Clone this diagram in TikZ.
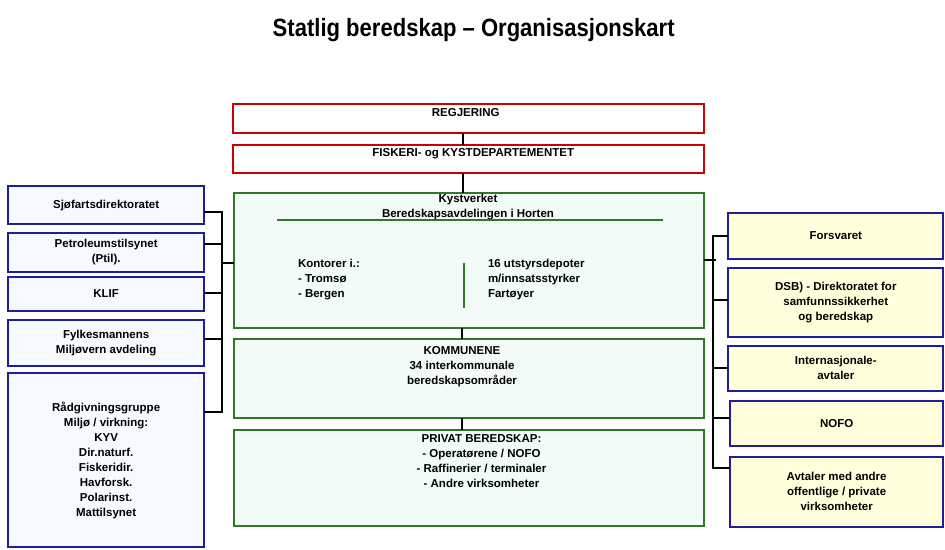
\documentclass[tikz,border=0pt]{standalone}
\usepackage{fontspec}
\setmainfont{Liberation Sans}
\usetikzlibrary{calc}
\definecolor{redc}{RGB}{204,0,0}
\definecolor{greenc}{RGB}{46,120,40}
\definecolor{bluec}{RGB}{30,30,150}
\definecolor{mintc}{RGB}{242,251,247}
\definecolor{lbluec}{RGB}{246,249,255}
\definecolor{lyellowc}{RGB}{255,255,220}
\newcommand\orgbox[7]{\node[#6, minimum width={(#4-#2)*1pt}, minimum height={(#5-#3)*1pt}] (#1) at ({(#2+#4)/2},{(#3+#5)/2}) {#7};}
\begin{document}
\begin{tikzpicture}[x=1pt,y=-1pt,
  every node/.style={font=\fontsize{11.5}{15}\selectfont\bfseries, inner sep=0pt, outer sep=0pt, align=center},
  boxbase/.style={draw, line width=2pt, rectangle},
  redbox/.style={boxbase, draw=redc, fill=white},
  greenbox/.style={boxbase, draw=greenc, fill=mintc},
  leftbox/.style={boxbase, draw=bluec, fill=lbluec},
  rightbox/.style={boxbase, draw=bluec, fill=lyellowc},
  conn/.style={line width=2pt, black},
  greenline/.style={line width=1.6pt, greenc},
  toptext/.style={anchor=north}
]
\fill[white] (0,0) rectangle (945,549);
\useasboundingbox (0,0) rectangle (945,549);

\node[anchor=base] (title) at (473.7,36.7) {\scalebox{0.882}[1]{\fontsize{25}{30}\selectfont Statlig beredskap – Organisasjonskart}};

% centre column
\orgbox{regj}{232.5}{104.3}{703.5}{133.3}{redbox}{}
\orgbox{fisk}{232.5}{144.5}{703.5}{173.3}{redbox}{}
\orgbox{kyst}{234.3}{192.8}{703.5}{328.3}{greenbox}{}
\orgbox{komm}{234.3}{338.7}{703.5}{417.7}{greenbox}{}
\orgbox{priv}{234.3}{430}{703.5}{526}{greenbox}{}

\node[toptext] (regjt) at (465.7,108.2) {REGJERING};
\node[toptext] (fiskt) at (473.3,148.2) {FISKERI-  og KYSTDEPARTEMENTET};
\node[toptext] (kystt) at (468,194.6) {Kystverket\\Beredskapsavdelingen  i Horten};
\coordinate (gl1) at (277,220);
\coordinate (gl2) at (663,220);
\draw[greenline] (gl1) -- (gl2);
\node[anchor=north west, align=left] (kont) at (298,258.9) {Kontorer i.:\\- Tromsø\\- Bergen};
\node[anchor=north west, align=left] (depo) at (488,258.9) {16 utstyrsdepoter\\m/innsatsstyrker\\Fartøyer};
\coordinate (vl1) at (464,263);
\coordinate (vl2) at (464,308);
\draw[greenline] (vl1) -- (vl2);
\node[toptext] (kommt) at (462,346.9) {KOMMUNENE\\34 interkommunale\\beredskapsområder};
\node[toptext] (privt) at (481.5,434.6) {PRIVAT BEREDSKAP:\\- Operatørene / NOFO\\- Raffinerier / terminaler\\- Andre virksomheter};

% left column
\orgbox{sjo}{8.3}{186}{204}{224.3}{leftbox}{Sjøfartsdirektoratet}
\orgbox{ptil}{8.3}{232.7}{204}{271.7}{leftbox}{Petroleumstilsynet\\(Ptil).}
\orgbox{klif}{8.3}{277.3}{204}{310.7}{leftbox}{KLIF}
\orgbox{fylk}{8.3}{320}{204}{366}{leftbox}{Fylkesmannens\\Miljøvern  avdeling}
\orgbox{rad}{8.3}{373.3}{204}{547}{leftbox}{Rådgivningsgruppe\\Miljø / virkning:\\KYV\\Dir.naturf.\\Fiskeridir.\\Havforsk.\\Polarinst.\\Mattilsynet}

% right column
\orgbox{fors}{728.3}{212.7}{943.3}{259.3}{rightbox}{Forsvaret}
\orgbox{dsb}{728.3}{268.3}{943.3}{336.7}{rightbox}{DSB) - Direktoratet for\\samfunnssikkerhet\\og  beredskap}
\orgbox{inta}{728.3}{345.7}{943.3}{391}{rightbox}{Internasjonale-\\avtaler}
\orgbox{nofo}{730}{401}{943.3}{446}{rightbox}{NOFO}
\orgbox{avt}{730}{456.7}{943.3}{526.7}{rightbox}{Avtaler med andre\\offentlige / private\\virksomheter}

% centre connectors
\coordinate (cx) at (462.5,0);
\draw[conn] (regj.south -| cx) -- (fisk.north -| cx);
\draw[conn] (fisk.south -| cx) -- (kyst.north -| cx);
\coordinate (cx2) at (461.5,0);
\draw[conn] (kyst.south -| cx2) -- (komm.north -| cx2);
\draw[conn] (komm.south -| cx2) -- (priv.north -| cx2);

% left connectors
\coordinate (lx) at (221.7,0);
\draw[conn] (sjo.east |- 0,211.7) -- (lx |- 0,211.7) -- (lx |- 0,411.7) -- (rad.east |- 0,411.7);
\draw[conn] (ptil.east |- 0,244) -- (lx |- 0,244);
\draw[conn] (klif.east |- 0,293.3) -- (lx |- 0,293.3);
\draw[conn] (fylk.east |- 0,339.3) -- (lx |- 0,339.3);
\draw[conn] (lx |- 0,263.3) -- (kyst.west |- 0,263.3);

% right connectors
\coordinate (rx) at (712.7,0);
\draw[conn] (fors.west |- 0,236) -- (rx |- 0,236) -- (rx |- 0,468.3) -- (avt.west |- 0,468.3);
\draw[conn] (dsb.west |- 0,300) -- (rx |- 0,300);
\draw[conn] (inta.west |- 0,368) -- (rx |- 0,368);
\draw[conn] (nofo.west |- 0,417.7) -- (rx |- 0,417.7);
\draw[conn] (kyst.east |- 0,260) -- ([xshift=3pt]rx |- 0,260);
\end{tikzpicture}
\end{document}
